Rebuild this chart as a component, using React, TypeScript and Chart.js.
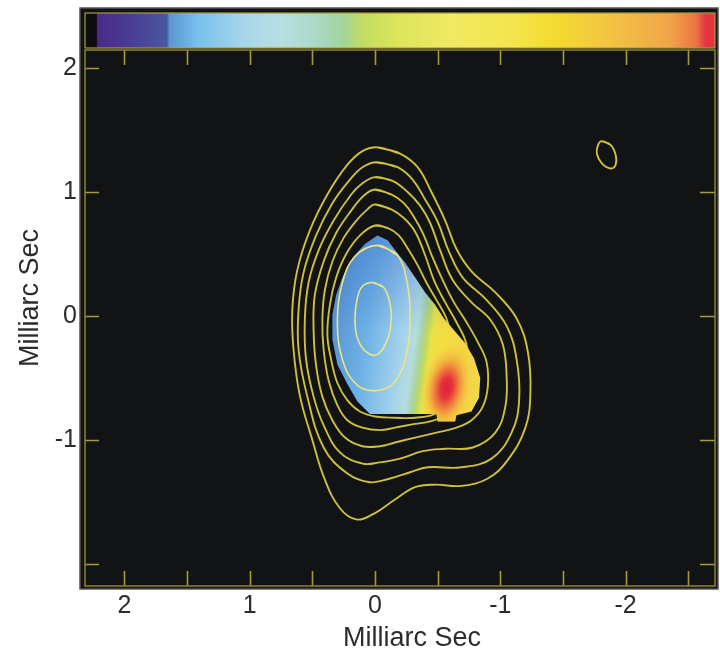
import React, { useEffect, useRef } from 'react';
import { Chart, registerables } from 'chart.js';

Chart.register(...registerables);

type Pt = [number, number];

// ---- axes (milliarcseconds) ----
const xLimits = { left: 2.314, right: -2.713 };
const yLimits = { bottom: -2.177, top: 2.145 };
const xTickLabels = [2, 1, 0, -1, -2];
const xTickMarks = [2, 1.5, 1, 0.5, 0, -0.5, -1, -1.5, -2, -2.5];
const yTickLabels = [2, 1, 0, -1];
const yTickMarks = [2, 1, 0, -1, -2];
const axisTitle = 'Milliarc Sec';

// ---- total intensity contours (outer to inner) ----
const contour1: Pt[] = [
  [-0.02, 1.36], [-0.2, 1.31], [-0.34, 1.2], [-0.45, 1.0], [-0.56, 0.77], [-0.65, 0.54], [-0.77, 0.36],
  [-0.96, 0.19], [-1.13, -0.02], [-1.22, -0.29], [-1.24, -0.62], [-1.2, -0.9], [-1.06, -1.16], [-0.9, -1.31],
  [-0.69, -1.37], [-0.48, -1.36], [-0.32, -1.38], [-0.16, -1.48], [0.02, -1.6], [0.15, -1.64], [0.28, -1.55],
  [0.4, -1.32], [0.5, -1.0], [0.6, -0.64], [0.65, -0.27], [0.66, 0.05], [0.62, 0.37], [0.52, 0.69],
  [0.38, 0.98], [0.22, 1.22], [0.1, 1.33],
];
const contour2: Pt[] = [
  [-0.01, 1.24], [-0.18, 1.2], [-0.3, 1.1], [-0.4, 0.94], [-0.5, 0.76], [-0.59, 0.52], [-0.7, 0.31],
  [-0.88, 0.14], [-1.05, -0.08], [-1.13, -0.35], [-1.15, -0.68], [-1.09, -0.94], [-0.93, -1.15], [-0.69, -1.22],
  [-0.42, -1.22], [-0.28, -1.26], [-0.12, -1.31], [0.04, -1.34], [0.22, -1.27], [0.41, -1.06], [0.54, -0.65],
  [0.61, -0.27], [0.61, 0.05], [0.57, 0.35], [0.47, 0.65], [0.34, 0.91], [0.2, 1.1], [0.1, 1.2],
];
const contour3: Pt[] = [
  [0.0, 1.12], [-0.14, 1.09], [-0.26, 1.0], [-0.36, 0.89], [-0.44, 0.75], [-0.52, 0.53], [-0.62, 0.29],
  [-0.77, 0.11], [-0.92, -0.03], [-1.02, -0.23], [-1.05, -0.48], [-1.04, -0.73], [-0.96, -0.94], [-0.78, -1.06],
  [-0.56, -1.07], [-0.38, -1.09], [-0.2, -1.15], [-0.04, -1.18], [0.1, -1.19], [0.28, -1.1], [0.41, -0.88],
  [0.49, -0.65], [0.55, -0.35], [0.56, -0.03], [0.53, 0.27], [0.45, 0.53], [0.33, 0.77], [0.19, 0.98], [0.1, 1.07],
];
const contour4: Pt[] = [
  [0.0, 1.02], [-0.13, 0.98], [-0.23, 0.91], [-0.31, 0.8], [-0.39, 0.65], [-0.46, 0.47], [-0.54, 0.29],
  [-0.63, 0.11], [-0.73, -0.05], [-0.82, -0.21], [-0.89, -0.37], [-0.9, -0.57], [-0.86, -0.73], [-0.77, -0.84],
  [-0.65, -0.9], [-0.49, -0.94], [-0.32, -0.98], [-0.16, -1.02], [-0.04, -1.05], [0.1, -1.05], [0.24, -0.98],
  [0.34, -0.84], [0.42, -0.65], [0.47, -0.4], [0.49, -0.11], [0.48, 0.17], [0.41, 0.44], [0.31, 0.67],
  [0.19, 0.85], [0.09, 0.97],
];
const contour5: Pt[] = [
  [0.0, 0.9], [-0.13, 0.86], [-0.23, 0.79], [-0.32, 0.68], [-0.4, 0.49], [-0.47, 0.29], [-0.56, 0.11],
  [-0.65, -0.05], [-0.73, -0.23], [-0.74, -0.48], [-0.68, -0.68], [-0.56, -0.8], [-0.44, -0.85], [-0.32, -0.87],
  [-0.16, -0.9], [-0.04, -0.92], [0.1, -0.9], [0.22, -0.84], [0.3, -0.72], [0.37, -0.52], [0.41, -0.27],
  [0.42, -0.03], [0.4, 0.21], [0.34, 0.44], [0.25, 0.63], [0.14, 0.78], [0.06, 0.86],
];
const contour6: Pt[] = [
  [0.0, 0.73], [-0.1, 0.71], [-0.19, 0.65], [-0.27, 0.53], [-0.34, 0.41], [-0.41, 0.27], [-0.49, 0.13],
  [-0.57, -0.02], [-0.61, -0.19], [-0.64, -0.44], [-0.6, -0.66], [-0.5, -0.78], [-0.32, -0.82], [-0.16, -0.82],
  [0.0, -0.81], [0.12, -0.77], [0.22, -0.68], [0.3, -0.54], [0.35, -0.35], [0.38, -0.15], [0.36, 0.09],
  [0.31, 0.31], [0.23, 0.5], [0.12, 0.65],
];
// contours drawn over the colour image
const contour7: Pt[] = [
  [-0.02, 0.57], [-0.18, 0.49], [-0.26, 0.25], [-0.28, -0.02], [-0.25, -0.31], [-0.16, -0.53],
  [-0.02, -0.6], [0.14, -0.56], [0.26, -0.35], [0.3, -0.03], [0.26, 0.27], [0.16, 0.48],
];
const contour8: Pt[] = [
  [0.02, 0.27], [-0.07, 0.23], [-0.12, 0.1], [-0.13, -0.03], [-0.1, -0.19], [-0.02, -0.31],
  [0.07, -0.29], [0.14, -0.18], [0.16, -0.02], [0.14, 0.15], [0.1, 0.24],
];
// restoring beam
const beam: Pt[] = [
  [-1.81, 1.41], [-1.88, 1.38], [-1.92, 1.3], [-1.92, 1.22], [-1.88, 1.19], [-1.81, 1.23], [-1.77, 1.31], [-1.78, 1.38],
];

// ---- colour image (spectral region) ----
const patchOutline: Pt[] = [
  [-0.02, 0.65], [-0.1, 0.61], [-0.16, 0.53], [-0.24, 0.43], [-0.32, 0.31], [-0.4, 0.19], [-0.48, 0.09],
  [-0.55, -0.02], [-0.61, -0.09], [-0.72, -0.22], [-0.79, -0.34], [-0.84, -0.5], [-0.83, -0.66], [-0.77, -0.77],
  [-0.65, -0.8], [-0.64, -0.85], [-0.5, -0.85], [-0.49, -0.79], [0.04, -0.79], [0.14, -0.69], [0.22, -0.55],
  [0.3, -0.39], [0.34, -0.19], [0.34, 0.01], [0.31, 0.17], [0.26, 0.31], [0.18, 0.47], [0.08, 0.58],
];
const patchGradFrom: Pt = [0.32, -0.19];
const patchGradTo: Pt = [-0.88, -0.36];
const patchStops: [number, string][] = [
  [0, '#5b98d6'], [0.2, '#6db1e6'], [0.42, '#a0d0ec'], [0.52, '#b5dce0'], [0.565, '#a9d5a2'],
  [0.595, '#bdd95e'], [0.63, '#e9e24b'], [0.68, '#f4de42'], [0.85, '#f3d444'], [1, '#f2d84a'],
];
const peakCenter: Pt = [-0.57, -0.58];
const peakRadius: Pt = [0.2, 0.36];
const peakStops: [number, string][] = [
  [0, '#e2203c'], [0.22, '#e5323c'], [0.45, 'rgba(238,110,58,0.9)'], [0.7, 'rgba(242,165,60,0.55)'], [1, 'rgba(244,205,66,0)'],
];

// ---- colour bar ----
const colorbarStops: [number, string][] = [
  [0, '#0d0d10'], [0.018, '#0d0d10'], [0.02, '#4a2a88'], [0.07, '#4a3c96'], [0.13, '#4a58a0'],
  [0.134, '#5b96d2'], [0.18, '#78c0ee'], [0.25, '#a6d6ea'], [0.31, '#b8dee2'], [0.37, '#aad8c6'],
  [0.41, '#a2d49a'], [0.44, '#c2dc62'], [0.49, '#dae45a'], [0.58, '#f0ea62'], [0.68, '#f4e44c'],
  [0.745, '#f4da30'], [0.82, '#f4c840'], [0.93, '#f0a448'], [0.97, '#ec7446'], [0.985, '#e63542'], [1, '#e63542'],
];

const FONT = '"Liberation Sans", Arial, Helvetica, sans-serif';
const TEXT = '#2c2c2c';
const LINE = '#cdc03c';
const INNER_LINE = '#ebe583';
const TICK = '#a69c3a';

const closed = (pts: Pt[]) => [...pts, pts[0], pts[1]].map(([x, y]) => ({ x, y }));

function drawPatch(chart: any) {
  const { ctx, chartArea: a, scales } = chart;
  const X = (v: number) => scales.x.getPixelForValue(v);
  const Y = (v: number) => scales.y.getPixelForValue(v);
  ctx.save();
  ctx.beginPath();
  ctx.rect(a.left, a.top, a.right - a.left, a.bottom - a.top);
  ctx.clip();
  ctx.beginPath();
  patchOutline.forEach(([x, y], i) => (i ? ctx.lineTo(X(x), Y(y)) : ctx.moveTo(X(x), Y(y))));
  ctx.closePath();
  const g = ctx.createLinearGradient(X(patchGradFrom[0]), Y(patchGradFrom[1]), X(patchGradTo[0]), Y(patchGradTo[1]));
  patchStops.forEach(([o, c]) => g.addColorStop(o, c));
  ctx.fillStyle = g;
  ctx.fill();
  ctx.clip();
  const g2 = ctx.createLinearGradient(0, Y(0.66), 0, Y(-0.12));
  g2.addColorStop(0, 'rgba(45,95,190,0.38)');
  g2.addColorStop(1, 'rgba(45,95,190,0)');
  ctx.fillStyle = g2;
  ctx.fillRect(a.left, a.top, a.right - a.left, a.bottom - a.top);
  const cx = X(peakCenter[0]);
  const cy = Y(peakCenter[1]);
  const rx = Math.abs(X(peakCenter[0] + peakRadius[0]) - cx);
  const ry = Math.abs(Y(peakCenter[1] + peakRadius[1]) - cy);
  ctx.translate(cx, cy);
  ctx.rotate(0.18);
  ctx.scale(1, ry / rx);
  const rg = ctx.createRadialGradient(0, 0, 0, 0, 0, rx);
  peakStops.forEach(([o, c]) => rg.addColorStop(o, c));
  ctx.fillStyle = rg;
  ctx.fillRect(-rx, -rx, 2 * rx, 2 * rx);
  ctx.restore();
}

const mapPlugin = {
  id: 'radioMap',
  beforeDraw(chart: any) {
    const { ctx, chartArea: a } = chart;
    ctx.save();
    ctx.fillStyle = '#111315';
    ctx.fillRect(a.left - 5, 8, a.right - a.left + 8, a.bottom - 8 + 3);
    ctx.strokeStyle = '#55554c';
    ctx.lineWidth = 1.5;
    ctx.strokeRect(a.left - 5, 8, a.right - a.left + 8, a.bottom - 8 + 3);
    // colour bar
    const bx = a.left, by = 13, bw = a.right - a.left, bh = 35;
    const g = ctx.createLinearGradient(bx, 0, bx + bw, 0);
    colorbarStops.forEach(([o, c]) => g.addColorStop(o, c));
    ctx.fillStyle = g;
    ctx.fillRect(bx, by, bw, bh);
    ctx.strokeStyle = '#a59c3c';
    ctx.lineWidth = 1.2;
    ctx.strokeRect(bx, by, bw, bh);
    ctx.restore();
    chart.$patchDone = false;
  },
  beforeDatasetDraw(chart: any, args: any) {
    const ds = chart.data.datasets[args.index];
    if (ds.inner && !chart.$patchDone) {
      drawPatch(chart);
      chart.$patchDone = true;
    }
  },
  afterDraw(chart: any) {
    const { ctx, chartArea: a, scales } = chart;
    ctx.save();
    ctx.strokeStyle = TICK;
    ctx.lineWidth = 1.6;
    ctx.beginPath();
    xTickMarks.forEach((v) => {
      const px = Math.round(scales.x.getPixelForValue(v)) + 0.5;
      ctx.moveTo(px, a.top);
      ctx.lineTo(px, a.top + 15);
      ctx.moveTo(px, a.bottom);
      ctx.lineTo(px, a.bottom - 15);
    });
    yTickMarks.forEach((v) => {
      const py = Math.round(scales.y.getPixelForValue(v)) + 0.5;
      ctx.moveTo(a.left, py);
      ctx.lineTo(a.left + 14, py);
      ctx.moveTo(a.right, py);
      ctx.lineTo(a.right - 15, py);
    });
    ctx.stroke();
    ctx.strokeStyle = '#8c8434';
    ctx.lineWidth = 1.5;
    ctx.strokeRect(a.left, a.top, a.right - a.left, a.bottom - a.top);
    // axis titles
    ctx.fillStyle = TEXT;
    ctx.font = `27px ${FONT}`;
    ctx.textAlign = 'center';
    ctx.textBaseline = 'alphabetic';
    ctx.fillText(axisTitle, 412, 646);
    ctx.translate(38, 298);
    ctx.rotate(-Math.PI / 2);
    ctx.fillText(axisTitle, 0, 0);
    ctx.restore();
  },
};

export default function App() {
  const ref = useRef<HTMLCanvasElement | null>(null);
  useEffect(() => {
    if (!ref.current) return;
    const outer = [contour1, contour2, contour3, contour4, contour5, contour6, beam].map((c) => ({
      data: closed(c),
      borderColor: LINE,
      borderWidth: 1.9,
      tension: 0.4,
      showLine: true,
      pointRadius: 0,
      order: 3,
      inner: false,
    }));
    const inner = [contour7, contour8].map((c) => ({
      data: closed(c),
      borderColor: INNER_LINE,
      borderWidth: 1.6,
      tension: 0.4,
      showLine: true,
      pointRadius: 0,
      order: 1,
      inner: true,
    }));
    const chart = new Chart(ref.current, {
      type: 'scatter',
      data: { datasets: [...outer, ...inner] as any },
      options: {
        animation: false,
        responsive: false,
        devicePixelRatio: 1,
        events: [],
        layout: { padding: { top: 50, right: 5, left: 0, bottom: 0 } },
        plugins: { legend: { display: false }, tooltip: { enabled: false } },
        scales: {
          x: {
            type: 'linear',
            reverse: true,
            min: xLimits.right,
            max: xLimits.left,
            grid: { display: false, drawTicks: false },
            border: { display: false },
            afterBuildTicks: (s: any) => {
              s.ticks = xTickLabels.map((v) => ({ value: v }));
            },
            afterFit: (s: any) => {
              s.height = 63;
            },
            ticks: {
              autoSkip: false,
              maxRotation: 0,
              padding: 5,
              color: TEXT,
              font: { family: FONT, size: 25 },
              callback: (v: any) => String(v),
            },
          },
          y: {
            type: 'linear',
            min: yLimits.bottom,
            max: yLimits.top,
            grid: { display: false, drawTicks: false },
            border: { display: false },
            afterBuildTicks: (s: any) => {
              s.ticks = yTickLabels.map((v) => ({ value: v }));
            },
            afterFit: (s: any) => {
              s.width = 85;
            },
            ticks: {
              autoSkip: false,
              padding: 8,
              color: TEXT,
              font: { family: FONT, size: 25 },
              callback: (v: any) => String(v),
            },
          },
        },
      } as any,
      plugins: [mapPlugin],
    });
    return () => chart.destroy();
  }, []);
  return (
    <div style={{ position: 'absolute', left: 0, top: 0, width: 720, height: 649, background: '#fff' }}>
      <canvas ref={ref} width={720} height={649} />
    </div>
  );
}
